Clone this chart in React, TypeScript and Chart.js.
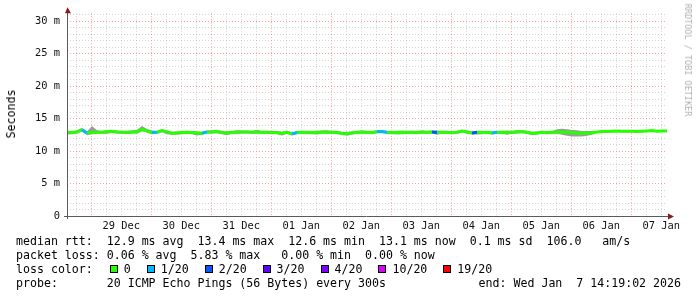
import React, { useEffect, useRef } from "react";
import { Chart, registerables } from "chart.js";

Chart.register(...registerables);

// time axis: hours after 28 Dec 00:00; graph spans the 240 h ending Wed Jan 7 14:19:02
const START_HOUR = 14.317;
const END_HOUR = 254.317;
const STEP_HOURS = 2;
const Y_MAX = 31.23;

const dayLabels = ["28 Dec", "29 Dec", "30 Dec", "31 Dec", "01 Jan", "02 Jan", "03 Jan", "04 Jan", "05 Jan", "06 Jan", "07 Jan"];
const yTickLabels = ["0", "5 m", "10 m", "15 m", "20 m", "25 m", "30 m"];

// median RTT (ms), one sample every 2 h
const medianRtt = [
  12.9, 12.9, 12.95, 13.3, 12.8, 12.85, 12.9, 12.9, 13.0, 13.05,
  12.95, 12.9, 12.9, 12.95, 12.95, 13.35, 13.1, 12.85, 12.9, 13.15,
  12.95, 12.75, 12.8, 12.85, 12.9, 12.85, 12.8, 12.75, 12.95, 12.95,
  13.0, 12.85, 12.8, 12.9, 12.9, 12.95, 12.95, 12.9, 12.95, 12.9,
  12.9, 12.85, 12.85, 12.75, 12.9, 12.65, 12.85, 12.9, 12.9, 12.85,
  12.9, 12.95, 12.9, 12.9, 12.85, 12.75, 12.7, 12.8, 12.9, 12.95,
  12.9, 12.85, 13.0, 13.0, 12.9, 12.85, 12.9, 12.85, 12.9, 12.9,
  12.85, 12.95, 12.9, 12.95, 12.85, 12.9, 12.9, 12.85, 12.9, 13.1,
  12.95, 12.8, 12.9, 12.85, 12.9, 12.8, 12.9, 12.9, 12.85, 12.9,
  12.95, 13.0, 12.9, 12.75, 12.8, 12.9, 12.85, 12.9, 12.95, 12.95,
  12.9, 12.85, 12.8, 12.75, 12.8, 12.85, 12.95, 13.0, 13.0, 13.05,
  13.1, 13.05, 13.05, 13.05, 13.0, 13.05, 13.1, 13.15, 13.05, 13.1,
  13.1,
];

// smoke extent above / below the median (ms)
const smokeAbove = [
  0.2, 0.2, 0.2, 0.25, 0.2, 1.0, 0.3, 0.2, 0.2, 0.2,
  0.2, 0.2, 0.2, 0.2, 0.35, 0.5, 0.3, 0.3, 0.2, 0.2,
  0.2, 0.2, 0.2, 0.2, 0.2, 0.2, 0.2, 0.2, 0.2, 0.2,
  0.3, 0.2, 0.2, 0.2, 0.3, 0.2, 0.2, 0.2, 0.35, 0.2,
  0.2, 0.2, 0.2, 0.2, 0.2, 0.2, 0.2, 0.2, 0.2, 0.2,
  0.2, 0.2, 0.3, 0.2, 0.2, 0.2, 0.2, 0.2, 0.2, 0.2,
  0.2, 0.2, 0.2, 0.2, 0.2, 0.2, 0.2, 0.3, 0.2, 0.2,
  0.2, 0.2, 0.2, 0.2, 0.3, 0.2, 0.2, 0.2, 0.2, 0.2,
  0.2, 0.2, 0.2, 0.2, 0.2, 0.2, 0.2, 0.2, 0.3, 0.2,
  0.3, 0.2, 0.2, 0.2, 0.2, 0.2, 0.2, 0.2, 0.4, 0.5,
  0.45, 0.4, 0.4, 0.35, 0.3, 0.25, 0.15, 0.15, 0.15, 0.15,
  0.15, 0.15, 0.15, 0.15, 0.15, 0.15, 0.15, 0.15, 0.15, 0.15,
  0.15,
];
const smokeBelow = [
  0.35, 0.3, 0.25, 0.25, 0.35, 0.25, 0.25, 0.25, 0.35, 0.25,
  0.25, 0.25, 0.3, 0.25, 0.25, 0.25, 0.25, 0.25, 0.25, 0.25,
  0.35, 0.25, 0.25, 0.25, 0.25, 0.25, 0.4, 0.25, 0.25, 0.25,
  0.25, 0.25, 0.35, 0.25, 0.25, 0.25, 0.25, 0.25, 0.25, 0.25,
  0.25, 0.25, 0.25, 0.35, 0.25, 0.25, 0.25, 0.25, 0.25, 0.25,
  0.35, 0.25, 0.25, 0.25, 0.25, 0.25, 0.35, 0.25, 0.25, 0.25,
  0.25, 0.25, 0.25, 0.25, 0.25, 0.25, 0.35, 0.25, 0.25, 0.25,
  0.25, 0.25, 0.25, 0.25, 0.35, 0.25, 0.25, 0.25, 0.25, 0.25,
  0.25, 0.25, 0.35, 0.25, 0.25, 0.25, 0.25, 0.25, 0.35, 0.25,
  0.25, 0.25, 0.25, 0.3, 0.25, 0.25, 0.25, 0.25, 0.3, 0.45,
  0.55, 0.6, 0.55, 0.5, 0.45, 0.35, 0.15, 0.15, 0.15, 0.15,
  0.15, 0.15, 0.15, 0.15, 0.15, 0.15, 0.15, 0.15, 0.15, 0.15,
  0.15,
];

// samples with packet loss (index into medianRtt) and their loss-colour class
const lossIndex = [3, 17, 27, 45, 62, 63, 73, 81, 85];
const lossLevel = [1, 1, 1, 1, 1, 1, 2, 2, 1];

const lossColors = ["#26ff00", "#00b8ff", "#0059ff", "#5e00ff", "#7e00ff", "#dd00ff", "#ff0000"];
const lossLabels = ["0", "1/20", "2/20", "3/20", "4/20", "10/20", "19/20"];

const statLine1 = "median rtt:  12.9 ms avg  13.4 ms max  12.6 ms min  13.1 ms now  0.1 ms sd  106.0   am/s";
const statLine2 = "packet loss: 0.06 % avg  5.83 % max   0.00 % min  0.00 % now";
const probeText = "probe:       20 ICMP Echo Pings (56 Bytes) every 300s";
const endText = "end: Wed Jan  7 14:19:02 2026";

const MONO = "'DejaVu Sans Mono', monospace";

const axisPlugin = {
  id: "rrdAxes",
  afterDraw(chart: any) {
    const { ctx, chartArea } = chart;
    const { left, right, top, bottom } = chartArea;
    ctx.save();
    ctx.strokeStyle = "#5a5a5a";
    ctx.lineWidth = 1;
    ctx.beginPath();
    ctx.moveTo(left + 0.5, bottom + 3);
    ctx.lineTo(left + 0.5, top - 2);
    ctx.moveTo(left - 3, bottom + 0.5);
    ctx.lineTo(right + 2, bottom + 0.5);
    ctx.stroke();
    ctx.fillStyle = "#8b1a1a";
    ctx.beginPath();
    ctx.moveTo(left - 2.5 + 0.5, top);
    ctx.lineTo(left + 3.5 + 0.5, top);
    ctx.lineTo(left + 0.5, top - 6);
    ctx.closePath();
    ctx.fill();
    ctx.beginPath();
    ctx.moveTo(right + 1, bottom - 2.5);
    ctx.lineTo(right + 1, bottom + 3.5);
    ctx.lineTo(right + 7, bottom + 0.5);
    ctx.closePath();
    ctx.fill();
    ctx.restore();
  },
};

export default function App() {
  const ref = useRef<HTMLCanvasElement>(null);

  useEffect(() => {
    const hours = medianRtt.map((_, i) => START_HOUR + i * STEP_HOURS);
    const lossAt = new Map<number, number>(lossIndex.map((idx, k) => [idx, lossLevel[k]]));
    const tickFont = { family: "'DejaVu Sans Mono', monospace", size: 10.4 };
    const minorGrid = "rgba(150,150,150,0.42)";
    const majorGrid = "rgba(245,80,80,0.55)";

    const chart = new Chart(ref.current as HTMLCanvasElement, {
      type: "line",
      data: {
        datasets: [
          {
            data: hours.map((h, i) => ({ x: h, y: medianRtt[i] })),
            borderColor: lossColors[0],
            borderWidth: 3,
            pointRadius: 0,
            fill: false,
            segment: {
              borderColor: (c: any) => lossColors[lossAt.get(c.p0DataIndex) ?? 0],
            },
          },
          {
            data: hours.map((h, i) => ({ x: h, y: medianRtt[i] + smokeAbove[i] })),
            borderColor: "transparent",
            borderWidth: 0,
            pointRadius: 0,
            fill: "+1",
            backgroundColor: "#9c9c9c",
          },
          {
            data: hours.map((h, i) => ({ x: h, y: medianRtt[i] - smokeBelow[i] })),
            borderColor: "transparent",
            borderWidth: 0,
            pointRadius: 0,
            fill: false,
          },
        ],
      },
      options: {
        responsive: false,
        animation: false,
        events: [],
        layout: { padding: { top: 13, right: 30, left: 0, bottom: 0 } },
        plugins: { legend: { display: false }, tooltip: { enabled: false } },
        scales: {
          x: {
            type: "linear",
            min: START_HOUR,
            max: END_HOUR,
            afterFit(s: any) {
              s.height = 81;
            },
            afterBuildTicks(s: any) {
              const t = [];
              for (let v = Math.ceil(START_HOUR / 6) * 6; v <= END_HOUR; v += 6) t.push({ value: v });
              s.ticks = t;
            },
            grid: {
              drawTicks: false,
              lineWidth: 1,
              color: (c: any) => (c.tick && c.tick.value % 24 === 0 ? majorGrid : minorGrid),
            },
            border: { display: false, dash: [1, 2] },
            ticks: {
              autoSkip: false,
              maxRotation: 0,
              minRotation: 0,
              padding: 4,
              color: "#111",
              font: tickFont,
              callback: (v: any) => (v % 24 === 12 ? dayLabels[Math.floor(v / 24)] : ""),
            },
          },
          y: {
            min: 0,
            max: Y_MAX,
            afterFit(s: any) {
              s.width = 67;
            },
            afterBuildTicks(s: any) {
              const t = [];
              for (let v = 0; v <= Y_MAX; v += 1) t.push({ value: v });
              s.ticks = t;
            },
            grid: {
              drawTicks: false,
              lineWidth: 1,
              color: (c: any) => (c.tick && c.tick.value % 5 === 0 ? majorGrid : minorGrid),
            },
            border: { display: false, dash: [1, 2] },
            ticks: {
              autoSkip: false,
              padding: 7,
              color: "#111",
              font: tickFont,
              callback: (v: any) => (v % 5 === 0 ? yTickLabels[v / 5] : ""),
            },
          },
        },
      },
      plugins: [axisPlugin],
    } as any);
    return () => chart.destroy();
  }, []);

  return (
    <div style={{ position: "fixed", left: 0, top: 0, width: 697, height: 297, background: "#fff", overflow: "hidden" }}>
      <canvas ref={ref} width={697} height={297} style={{ position: "absolute", left: 0, top: 0, width: 697, height: 297 }} />
      <div
        style={{
          position: "absolute",
          left: 11,
          top: 114,
          transform: "translate(-50%, -50%) rotate(-90deg)",
          font: `11.6px ${MONO}`,
          color: "#000",
          whiteSpace: "pre",
        }}
      >
        Seconds
      </div>
      <div
        style={{
          position: "absolute",
          left: 688,
          top: 60,
          transform: "translate(-50%, -50%) rotate(90deg)",
          font: `8.5px ${MONO}`,
          color: "#b0b0b0",
          whiteSpace: "pre",
        }}
      >
        RRDTOOL / TOBI OETIKER
      </div>
      <div
        style={{
          position: "absolute",
          left: 16,
          top: 234,
          width: 665,
          font: `11.6px ${MONO}`,
          lineHeight: "14px",
          whiteSpace: "pre",
          color: "#000",
        }}
      >
        <div>{statLine1}</div>
        <div>{statLine2}</div>
        <div style={{ display: "flex", alignItems: "center", height: 14 }}>
          <span>loss color:</span>
          {lossLabels.map((lab, i) => (
            <span key={lab} style={{ display: "flex", alignItems: "center", marginLeft: i === 0 ? 17 : 16 }}>
              <span
                style={{
                  display: "inline-block",
                  width: 6,
                  height: 6,
                  border: "1px solid #000",
                  background: lossColors[i],
                  marginRight: 6,
                }}
              />
              <span>{lab}</span>
            </span>
          ))}
        </div>
        <div style={{ display: "flex", justifyContent: "space-between" }}>
          <span>{probeText}</span>
          <span>{endText}</span>
        </div>
      </div>
    </div>
  );
}
